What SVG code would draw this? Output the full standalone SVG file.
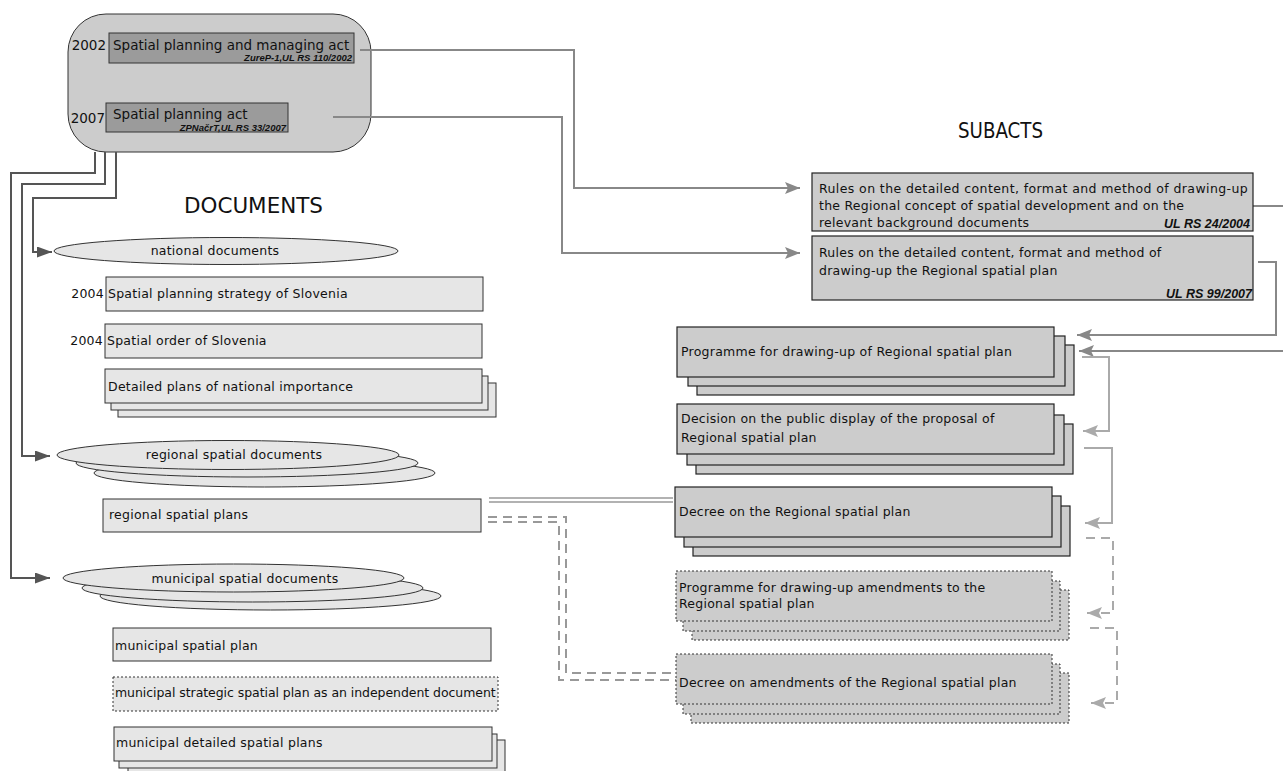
<svg xmlns="http://www.w3.org/2000/svg" width="1283" height="771" viewBox="0 0 1283 771">
<style>
text{font-family:"DejaVu Sans","Liberation Sans",sans-serif;fill:#111}
.t{font-size:12.5px;letter-spacing:0.25px}
.tb{font-size:13.5px}
.cit{font-family:"Liberation Sans",Arial,sans-serif;font-style:italic;font-weight:bold;font-size:9.5px}
.cit2{font-family:"Liberation Sans",Arial,sans-serif;font-style:italic;font-weight:bold;font-size:12.5px}
.title{font-size:21px}
.doc{fill:#e6e6e6;stroke:#333;stroke-width:1}
.sub{fill:#cccccc;stroke:#222;stroke-width:1.2}
.subd{fill:#cccccc;stroke:#333;stroke-width:1;stroke-dasharray:2,2}
.docd{fill:#e6e6e6;stroke:#333;stroke-width:1;stroke-dasharray:2,2}
.act{fill:#9b9b9b;stroke:#333;stroke-width:1}
.ell{fill:#e6e6e6;stroke:#333;stroke-width:1}
.cd{fill:none;stroke:#555;stroke-width:2}
.cg{fill:none;stroke:#888;stroke-width:2}
.cl{fill:none;stroke:#aaa;stroke-width:2}
.cld{fill:none;stroke:#aaa;stroke-width:2;stroke-dasharray:9,6}
.dbl{fill:none;stroke:#999;stroke-width:1.5}
.dbld{fill:none;stroke:#999;stroke-width:2;stroke-dasharray:9,6}
</style>
<defs>
<marker id="ad" markerWidth="15" markerHeight="11" refX="15" refY="5.5" orient="auto" markerUnits="userSpaceOnUse"><path d="M0,0 L15,5.5 L0,11 z" fill="#555"/></marker>
<marker id="ag" markerWidth="15" markerHeight="12" refX="15" refY="6" orient="auto" markerUnits="userSpaceOnUse"><path d="M0,0 L15,6 L0,12 L3,6 z" fill="#888"/></marker>
<marker id="al" markerWidth="15" markerHeight="12" refX="15" refY="6" orient="auto" markerUnits="userSpaceOnUse"><path d="M0,0 L15,6 L0,12 L3,6 z" fill="#aaa"/></marker>
</defs>

<g id="acts">
<rect x="68" y="14" width="303" height="138" rx="38" ry="38" fill="#cccccc" stroke="#333" stroke-width="1"/>
<rect class="act" x="109" y="33" width="245" height="30"/>
<text class="tb" x="106" y="50" text-anchor="end">2002</text>
<text class="tb" x="113" y="50">Spatial planning and managing act</text>
<text class="cit" x="352" y="61" text-anchor="end">ZureP-1,UL RS 110/2002</text>
<rect class="act" x="106" y="103" width="182" height="29"/>
<text class="tb" x="105" y="123" text-anchor="end">2007</text>
<text class="tb" x="113" y="118.5">Spatial planning act</text>
<text class="cit" x="286" y="130.5" text-anchor="end">ZPNačrT,UL RS 33/2007</text>
</g>

<g id="titles">
<text class="title" x="184" y="213" textLength="139" lengthAdjust="spacingAndGlyphs">DOCUMENTS</text>
<text class="title" x="958" y="138" textLength="85" lengthAdjust="spacingAndGlyphs">SUBACTS</text>
</g>

<g id="connectors">
<path class="cg" d="M360,50 H574 V188 H800" marker-end="url(#ag)"/>
<path class="cg" d="M333,117 H562 V253 H800" marker-end="url(#ag)"/>
<path class="cd" d="M95,152 V173 H11 V578 H50" marker-end="url(#ad)"/>
<path class="cd" d="M105,152 V184 H22 V456 H50" marker-end="url(#ad)"/>
<path class="cd" d="M116,152 V198 H33 V252 H52" marker-end="url(#ad)"/>
<path class="cg" d="M1253,206 H1295 V351 H1079" marker-end="url(#ag)"/>
<path class="cg" d="M1258,262 H1276 V335 H1077" marker-end="url(#ag)"/>
<path class="cl" d="M1082,357 H1109 V431 H1083" marker-end="url(#al)"/>
<path class="cl" d="M1084,448 H1112 V523 H1085" marker-end="url(#al)"/>
<path class="cld" d="M1086,538 H1113 V613 H1087" marker-end="url(#al)"/>
<path class="cld" d="M1090,628 H1117 V703 H1091" marker-end="url(#al)"/>
<path class="dbl" d="M489,498 H673"/>
<path class="dbl" d="M489,502 H673"/>
<path class="dbld" d="M488,517 H566 V673 H676"/>
<path class="dbld" d="M488,522 H559 V680 H676"/>
</g>

<g id="national-documents">
<ellipse class="ell" cx="226" cy="251" rx="172" ry="13.5"/>
<text class="t" x="215" y="255" text-anchor="middle">national documents</text>
</g>
<g id="spatial-strategy">
<rect class="doc" x="106" y="277" width="377" height="34"/>
<text class="t" x="104" y="298" text-anchor="end">2004</text>
<text class="t" x="108" y="298">Spatial planning strategy of Slovenia</text>
</g>
<g id="spatial-order">
<rect class="doc" x="105" y="324" width="377" height="34"/>
<text class="t" x="103" y="345" text-anchor="end">2004</text>
<text class="t" x="107" y="345">Spatial order of Slovenia</text>
</g>
<g id="detailed-national">
<rect class="doc" x="118" y="383" width="378" height="34"/>
<rect class="doc" x="111" y="376" width="377" height="34"/>
<rect class="doc" x="105" y="369" width="377" height="34"/>
<text class="t" x="108" y="391">Detailed plans of national importance</text>
</g>

<g id="regional-documents">
<ellipse class="ell" cx="264.5" cy="473" rx="170.5" ry="14"/>
<ellipse class="ell" cx="247" cy="463" rx="171" ry="14"/>
<ellipse class="ell" cx="228" cy="455" rx="171" ry="14.5"/>
<text class="t" x="234" y="459" text-anchor="middle">regional spatial documents</text>
</g>
<g id="regional-plans">
<rect class="doc" x="103" y="499" width="378" height="33"/>
<text class="t" x="109" y="519">regional spatial plans</text>
</g>

<g id="municipal-documents">
<ellipse class="ell" cx="270.5" cy="596" rx="170.5" ry="14"/>
<ellipse class="ell" cx="252.5" cy="588" rx="170.5" ry="14"/>
<ellipse class="ell" cx="233.5" cy="578" rx="170.5" ry="14"/>
<text class="t" x="245" y="583" text-anchor="middle">municipal spatial documents</text>
</g>
<g id="municipal-plan">
<rect class="doc" x="113" y="628" width="378" height="33"/>
<text class="t" x="115" y="650">municipal spatial plan</text>
</g>
<g id="municipal-strategic">
<rect class="docd" x="113" y="677" width="385" height="34"/>
<text class="t" x="115" y="697" textLength="381" lengthAdjust="spacing">municipal strategic spatial plan as an independent document</text>
</g>
<g id="municipal-detailed">
<rect class="doc" x="128" y="740" width="377" height="40"/>
<rect class="doc" x="119" y="734" width="378" height="34"/>
<rect class="doc" x="114" y="727" width="378" height="34"/>
<text class="t" x="116" y="747">municipal detailed spatial plans</text>
</g>

<g id="rules-rcsd">
<rect class="sub" x="812" y="173" width="441" height="58"/>
<text class="t" x="819" y="193" textLength="429" lengthAdjust="spacing">Rules on the detailed content, format and method of drawing-up</text>
<text class="t" x="819" y="210">the Regional concept of spatial development and on the</text>
<text class="t" x="819" y="227">relevant background documents</text>
<text class="cit2" x="1250" y="228" text-anchor="end">UL RS 24/2004</text>
</g>
<g id="rules-rsp">
<rect class="sub" x="812" y="236" width="441" height="64"/>
<text class="t" x="819" y="257">Rules on the detailed content, format and method of</text>
<text class="t" x="819" y="275">drawing-up the Regional spatial plan</text>
<text class="cit2" x="1252" y="298" text-anchor="end">UL RS 99/2007</text>
</g>

<g id="programme">
<rect class="sub" x="697" y="345" width="377" height="50"/>
<rect class="sub" x="688" y="336" width="377" height="50"/>
<rect class="sub" x="677" y="327" width="377" height="50"/>
<text class="t" x="681" y="356">Programme for drawing-up of Regional spatial plan</text>
</g>
<g id="decision">
<rect class="sub" x="696" y="424" width="377" height="50"/>
<rect class="sub" x="687" y="415" width="377" height="50"/>
<rect class="sub" x="677" y="404" width="377" height="50"/>
<text class="t" x="681" y="423">Decision on the public display of the proposal of</text>
<text class="t" x="681" y="442">Regional spatial plan</text>
</g>
<g id="decree">
<rect class="sub" x="693" y="506" width="377" height="50"/>
<rect class="sub" x="684" y="496" width="377" height="51"/>
<rect class="sub" x="675" y="487" width="377" height="50"/>
<text class="t" x="679" y="516">Decree on the Regional spatial plan</text>
</g>
<g id="programme-amendments">
<rect class="subd" x="692" y="590" width="377" height="50"/>
<rect class="subd" x="683" y="581" width="377" height="50"/>
<rect class="subd" x="676" y="571" width="376" height="50"/>
<text class="t" x="679" y="592">Programme for drawing-up amendments to the</text>
<text class="t" x="679" y="608">Regional spatial plan</text>
</g>
<g id="decree-amendments">
<rect class="subd" x="691" y="673" width="378" height="50"/>
<rect class="subd" x="683" y="664" width="377" height="50"/>
<rect class="subd" x="676" y="654" width="376" height="50"/>
<text class="t" x="679" y="687">Decree on amendments of the Regional spatial plan</text>
</g>
</svg>
